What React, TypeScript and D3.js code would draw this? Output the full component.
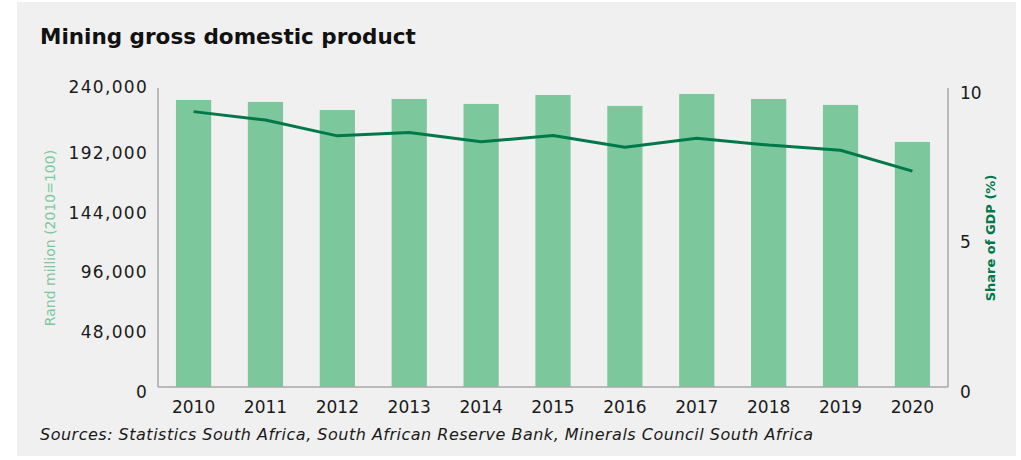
import React from "react";
import * as d3 from "d3";

const years = ["2010", "2011", "2012", "2013", "2014", "2015", "2016", "2017", "2018", "2019", "2020"];
const gdpRand = [230400, 228800, 222300, 231200, 227200, 234400, 225600, 235200, 231200, 226400, 196700];
const shareOfGdp = [9.21, 8.93, 8.4, 8.51, 8.2, 8.41, 8.02, 8.32, 8.09, 7.92, 7.22];
const leftTicks = [0, 48000, 96000, 144000, 192000, 240000];
const rightTicks = [0, 5, 10];

const W = 1021;
const H = 460;
const plot = { left: 158, right: 948, top: 88, bottom: 387 };

const FONT = "'DejaVu Sans', sans-serif";
const BAR = "#7cc89c";
const LINE = "#00784a";
const AXIS = "#a8a8a8";

export default function App() {
  const x = d3
    .scaleBand<string>()
    .domain(years)
    .range([plot.left, plot.right])
    .paddingInner(0.51)
    .paddingOuter(0.25);
  const yL = d3.scaleLinear().domain([0, 240000]).range([plot.bottom, plot.top]);
  const yR = d3.scaleLinear().domain([0, 10]).range([plot.bottom, plot.top]);
  const fmt = d3.format(",");

  const line = d3
    .line<number>()
    .x((_, i) => (x(years[i]) as number) + x.bandwidth() / 2)
    .y((d) => yR(d));

  return (
    <svg
      width={W}
      height={H}
      style={{ position: "absolute", left: 0, top: 0, background: "#fff" }}
    >
      <rect x={17} y={2} width={999} height={454} fill="#f0f0f0" />
      <text x={40} y={44} fontFamily={FONT} fontWeight="bold" fontSize={21.5} fill="#111">
        Mining gross domestic product
      </text>

      {gdpRand.map((v, i) => (
        <rect
          key={years[i]}
          x={x(years[i])}
          y={yL(v)}
          width={x.bandwidth()}
          height={plot.bottom - yL(v)}
          fill={BAR}
        />
      ))}

      <path d={line(shareOfGdp) || ""} fill="none" stroke={LINE} strokeWidth={3} strokeLinejoin="round" />

      {/* axes frame */}
      <line x1={plot.left} x2={plot.left} y1={plot.top} y2={plot.bottom} stroke={AXIS} strokeWidth={1.5} />
      <line x1={plot.right} x2={plot.right} y1={plot.top} y2={plot.bottom} stroke={AXIS} strokeWidth={1.5} />
      <line x1={plot.left} x2={plot.right} y1={plot.bottom} y2={plot.bottom} stroke={AXIS} strokeWidth={1.5} />

      {leftTicks.map((t, i) => (
        <text
          key={t}
          x={148}
          y={yL(t) + (i === leftTicks.length - 1 ? -1 : 5)}
          textAnchor="end"
          dominantBaseline="central"
          fontFamily={FONT}
          fontSize={17}
          letterSpacing={1.3}
          fill="#1a1a1a"
        >
          {fmt(t)}
        </text>
      ))}
      {rightTicks.map((t) => (
        <text
          key={t}
          x={960}
          y={yR(t) + 4.5}
          dominantBaseline="central"
          fontFamily={FONT}
          fontSize={17}
          fill="#1a1a1a"
        >
          {t}
        </text>
      ))}
      {years.map((yr) => (
        <text
          key={yr}
          x={(x(yr) as number) + x.bandwidth() / 2}
          y={407}
          textAnchor="middle"
          dominantBaseline="central"
          fontFamily={FONT}
          fontSize={17}
          fill="#1a1a1a"
        >
          {yr}
        </text>
      ))}

      <text
        transform="translate(50,238) rotate(-90)"
        textAnchor="middle"
        dominantBaseline="central"
        fontFamily={FONT}
        fontSize={14}
        fill={BAR}
      >
        Rand million (2010=100)
      </text>
      <text
        transform="translate(990,238) rotate(-90)"
        textAnchor="middle"
        dominantBaseline="central"
        fontFamily={FONT}
        fontWeight="bold"
        fontSize={13}
        fill={LINE}
      >
        Share of GDP (%)
      </text>

      <text
        x={40}
        y={434}
        dominantBaseline="central"
        fontFamily={FONT}
        fontStyle="italic"
        fontSize={16}
        letterSpacing={0.5}
        fill="#1a1a1a"
      >
        Sources: Statistics South Africa, South African Reserve Bank, Minerals Council South Africa
      </text>
    </svg>
  );
}
